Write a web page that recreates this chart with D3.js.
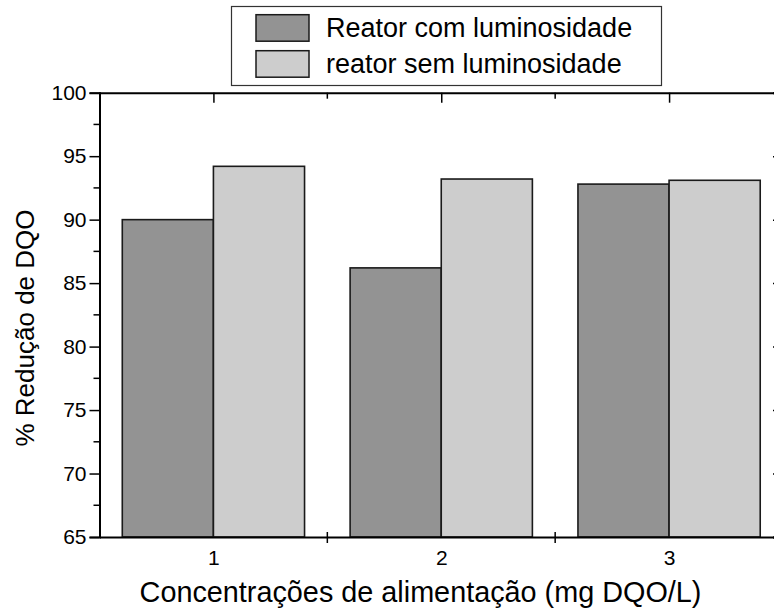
<!DOCTYPE html>
<html>
<head>
<meta charset="utf-8">
<script src="https://cdn.jsdelivr.net/npm/d3@7.9.0/dist/d3.min.js"></script>
<style>
  body { margin: 0; background: #fff; }
  svg { display: block; font-family: Arial, "Liberation Sans", sans-serif; }
</style>
</head>
<body>
<div id="chart"></div>
<script>
// data
const categories = [1, 2, 3];
const seriesNames = ['Reator com luminosidade', 'reator sem luminosidade'];
const comLuz = [90.0, 86.2, 92.8];
const semLuz = [94.2, 93.2, 93.1];
const yTicks = [65, 70, 75, 80, 85, 90, 95, 100];
const yMinorTicks = [67.5, 72.5, 77.5, 82.5, 87.5, 92.5, 97.5];
const xMinorTicks = [1.5, 2.5];

const colors = ['#939393', '#cdcdcd'];
const width = 774;
const height = 609;
const fontFam = 'Arial, "Liberation Sans", sans-serif';

const area = { left: 99.5, right: 783, top: 92.7, bottom: 537 };

const svg = d3.select('#chart')
  .append('svg')
  .attr('width', width)
  .attr('height', height);

const xScale = d3.scaleLinear()
  .domain([0.5, 3.5])
  .range([area.left, area.right]);

const yScale = d3.scaleLinear()
  .domain([65, 100])
  .range([area.bottom, area.top]);

const barW = 0.4; // in category units

// bars
const bars = svg.append('g').attr('class', 'bars');
const series = [comLuz, semLuz];
series.forEach((vals, s) => {
  bars.selectAll(null)
    .data(categories.map((c, i) => ({ c, v: vals[i] })))
    .join('rect')
    .attr('x', (d) => s === 0 ? xScale(d.c - barW) : xScale(d.c))
    .attr('width', xScale(barW) - xScale(0))
    .attr('y', (d) => yScale(d.v))
    .attr('height', (d) => yScale(65) - yScale(d.v))
    .attr('fill', colors[s])
    .attr('stroke', '#1a1a1a')
    .attr('stroke-width', 1.6);
});

// left axis: ticks outward
const yAxis = d3.axisLeft(yScale)
  .tickValues(yTicks)
  .tickSize(10)
  .tickPadding(3);
const gy = svg.append('g')
  .attr('transform', `translate(${area.left},0)`)
  .call(yAxis);
gy.select('.domain').attr('stroke-width', 2);
gy.selectAll('.tick line').attr('stroke-width', 1.5);
gy.selectAll('text')
  .attr('font-size', 21)
  .attr('font-family', fontFam)
  .attr('fill', '#000');
gy.append('g').selectAll('line')
  .data(yMinorTicks)
  .join('line')
  .attr('x1', -6).attr('x2', 0)
  .attr('y1', (d) => yScale(d)).attr('y2', (d) => yScale(d))
  .attr('stroke', '#000').attr('stroke-width', 1.5);

// right axis: ticks inward
const gyr = svg.append('g')
  .attr('transform', `translate(${area.right},0)`)
  .call(d3.axisRight(yScale).tickValues(yTicks).tickSize(-10).tickFormat(''));
gyr.select('.domain').attr('stroke-width', 2);
gyr.selectAll('.tick line').attr('stroke-width', 1.5);

// top axis: ticks inward
const gxt = svg.append('g')
  .attr('transform', `translate(0,${area.top})`)
  .call(d3.axisTop(xScale).tickValues(categories).tickSize(-10).tickFormat(''));
gxt.select('.domain').attr('stroke-width', 2);
gxt.selectAll('.tick line').attr('stroke-width', 1.5);
gxt.append('g').selectAll('line')
  .data(xMinorTicks)
  .join('line')
  .attr('x1', (d) => xScale(d)).attr('x2', (d) => xScale(d))
  .attr('y1', 0).attr('y2', 6)
  .attr('stroke', '#000').attr('stroke-width', 1.5);

// bottom axis
const gx = svg.append('g')
  .attr('transform', `translate(0,${area.bottom})`)
  .call(d3.axisBottom(xScale).tickValues(categories).tickSize(0).tickPadding(13)
    .tickFormat(d3.format('d')));
gx.select('.domain').attr('stroke-width', 2);
gx.selectAll('text')
  .attr('font-size', 21)
  .attr('font-family', fontFam)
  .attr('fill', '#000');
gx.append('g').selectAll('line')
  .data(xMinorTicks)
  .join('line')
  .attr('x1', (d) => xScale(d)).attr('x2', (d) => xScale(d))
  .attr('y1', -5).attr('y2', 6)
  .attr('stroke', '#000').attr('stroke-width', 1.5);

// axis titles
svg.append('text')
  .attr('x', 420.5)
  .attr('y', 602)
  .attr('text-anchor', 'middle')
  .attr('font-size', 28.8)
  .text('Concentrações de alimentação (mg DQO/L)');

svg.append('text')
  .attr('transform', 'translate(34,328) rotate(-90)')
  .attr('text-anchor', 'middle')
  .attr('font-size', 26)
  .text('% Redução de DQO');

// legend
const legend = svg.append('g').attr('class', 'legend');
legend.append('rect')
  .attr('x', 231.5).attr('y', 6.5)
  .attr('width', 430).attr('height', 79)
  .attr('fill', '#fff')
  .attr('stroke', '#333')
  .attr('stroke-width', 1.2);
seriesNames.forEach((name, i) => {
  const y0 = 14.7 + i * 36;
  legend.append('rect')
    .attr('x', 256).attr('y', y0)
    .attr('width', 53).attr('height', 26.5)
    .attr('fill', colors[i])
    .attr('stroke', '#1a1a1a')
    .attr('stroke-width', 1.5);
  legend.append('text')
    .attr('x', 326)
    .attr('y', y0 + 22.5)
    .attr('font-size', 27)
    .text(name);
});
</script>
</body>
</html>
